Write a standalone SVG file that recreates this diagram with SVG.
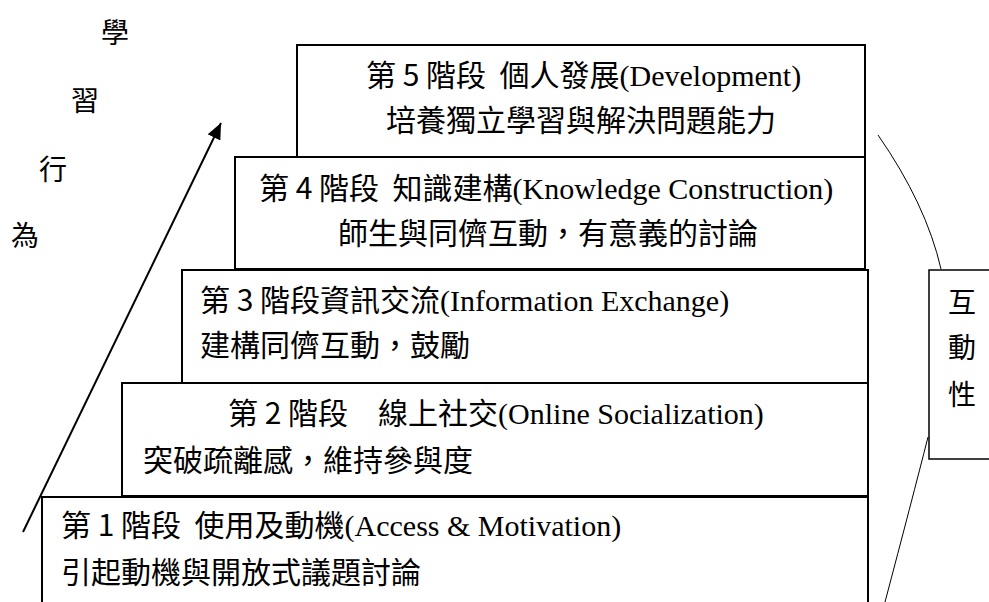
<svg xmlns="http://www.w3.org/2000/svg" width="989" height="602" viewBox="0 0 989 602">
<style>
.box{fill:#fff;stroke:#000;stroke-width:2}
.t{font-family:"Noto Sans CJK TC","Noto Sans CJK SC",sans-serif;font-size:30px;fill:#000;white-space:pre}
.lat{font-family:"Liberation Serif",serif}
.v{font-family:"Noto Sans CJK TC","Noto Sans CJK SC",sans-serif;font-size:28px;fill:#000}
.thin{fill:none;stroke:#000;stroke-width:1}
</style>
<defs>
<marker id="ah" markerUnits="userSpaceOnUse" markerWidth="18" markerHeight="14" refX="16" refY="7" orient="auto">
<path d="M0,0 L16,7 L0,14 Z" fill="#000"/>
</marker>
</defs>
<g id="label-left">
<text class="v" x="101" y="43">學</text>
<text class="v" x="71" y="111">習</text>
<text class="v" x="39" y="180">行</text>
<text class="v" x="11" y="246">為</text>
</g>
<g id="stage5">
<rect class="box" x="297" y="45" width="568" height="112"/>
<text class="t" x="366" y="86" xml:space="preserve">第 5 階段  個人發展<tspan class="lat">(Development)</tspan></text>
<text class="t" x="386" y="131">培養獨立學習與解決問題能力</text>
</g>
<g id="stage4">
<rect class="box" x="235" y="157" width="630" height="112"/>
<text class="t" x="259" y="199" xml:space="preserve">第 4 階段  知識建構<tspan class="lat">(Knowledge Construction)</tspan></text>
<text class="t" x="338" y="244">師生與同儕互動，有意義的討論</text>
</g>
<g id="stage3">
<rect class="box" x="182" y="270" width="686" height="113"/>
<text class="t" x="200" y="311" xml:space="preserve">第 3 階段資訊交流<tspan class="lat">(Information Exchange)</tspan></text>
<text class="t" x="200" y="356">建構同儕互動，鼓勵</text>
</g>
<g id="stage2">
<rect class="box" x="122" y="383" width="746" height="113"/>
<text class="t" x="228" y="424" xml:space="preserve">第 2 階段　線上社交<tspan class="lat">(Online Socialization)</tspan></text>
<text class="t" x="143" y="471">突破疏離感，維持參與度</text>
</g>
<g id="stage1">
<rect class="box" x="42" y="497" width="826" height="120"/>
<text class="t" x="61" y="536" xml:space="preserve">第 1 階段  使用及動機<tspan class="lat">(Access &amp; Motivation)</tspan></text>
<text class="t" x="61" y="583">引起動機與開放式議題討論</text>
</g>
<g id="interaction">
<rect x="929" y="270" width="70" height="189" fill="#fff" stroke="#000" stroke-width="1.5"/>
<text class="v" x="948" y="313">互</text>
<text class="v" x="948" y="358">動</text>
<text class="v" x="948" y="405">性</text>
</g>
<g id="connectors">
<line x1="23" y1="532" x2="221" y2="123" stroke="#000" stroke-width="2" marker-end="url(#ah)"/>
<path class="thin" d="M878,135 Q926,204 941,269"/>
<path class="thin" d="M928,437 Q912,500 885,602"/>
</g>
</svg>
